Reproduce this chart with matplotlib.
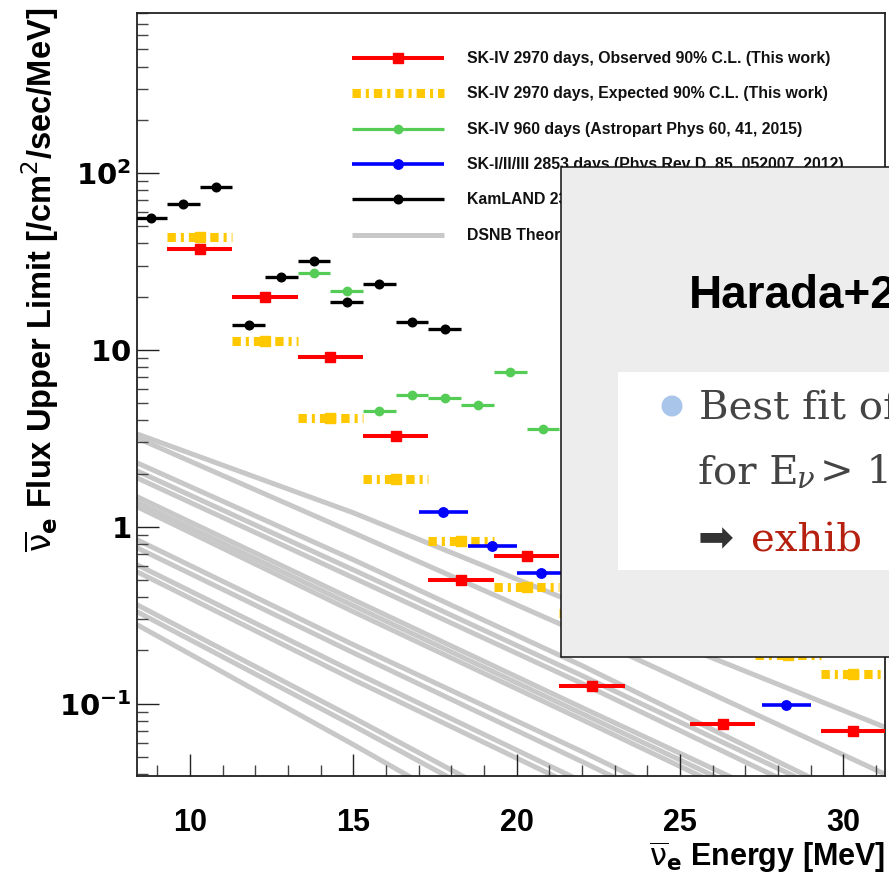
import matplotlib
matplotlib.use("Agg")
import matplotlib.pyplot as plt
from matplotlib.lines import Line2D
from matplotlib.patches import Rectangle, Ellipse
from matplotlib.ticker import FixedLocator, FixedFormatter, MultipleLocator, NullFormatter
import numpy as np

plt.rcParams["lines.scale_dashes"] = False

NARROW = ["Liberation Sans Narrow", "Liberation Sans", "DejaVu Sans"]

# SK-IV 2970 days, observed 90% C.L. upper limits
obs_lo = [9.3, 11.3, 13.3, 15.3, 17.3, 19.3, 21.3, 25.3, 29.3]
obs_hi = [11.3, 13.3, 15.3, 17.3, 19.3, 21.3, 23.3, 27.3, 31.3]
obs_val = [37.1, 20.0, 9.17, 3.24, 0.50, 0.68, 0.126, 0.077, 0.070]

# SK-IV 2970 days, expected 90% C.L. sensitivity
exp_lo = [9.3, 11.3, 13.3, 15.3, 17.3, 19.3, 21.3, 27.3, 29.3]
exp_hi = [11.3, 13.3, 15.3, 17.3, 19.3, 21.3, 23.3, 29.3, 31.3]
exp_val = [43.7, 11.3, 4.11, 1.87, 0.834, 0.454, 0.325, 0.189, 0.147]

# SK-IV 960 days
sk4_lo = [13.3, 14.3, 15.3, 16.3, 17.3, 18.3, 19.3, 20.3]
sk4_hi = [14.3, 15.3, 16.3, 17.3, 18.3, 19.3, 20.3, 21.3]
sk4_val = [27.3, 21.5, 4.54, 5.55, 5.38, 4.87, 7.51, 3.56]

# SK-I/II/III 2853 days
sk123_lo = [17.0, 18.5, 20.0, 27.5]
sk123_hi = [18.5, 20.0, 21.5, 29.0]
sk123_val = [1.21, 0.778, 0.545, 0.0987]

# KamLAND
kl_lo = [8.3, 9.3, 10.3, 11.3, 12.3, 13.3, 14.3, 15.3, 16.3, 17.3]
kl_hi = [9.3, 10.3, 11.3, 12.3, 13.3, 14.3, 15.3, 16.3, 17.3, 18.3]
kl_val = [55.7, 66.8, 83.4, 13.9, 25.7, 31.9, 18.7, 23.7, 14.3, 13.1]

# DSNB model predictions, sampled at these energies
model_E = [8.38, 15.0, 22.0, 31.3]
model_flux = [
    [3.35, 1.20, 0.358, 0.0732],
    [3.18, 0.925, 0.2486, 0.0397],
    [2.30, 0.651, 0.164, 0.0236],
    [2.07, 0.571, 0.144, 0.0221],
    [1.89, 0.515, 0.130, 0.0194],
    [1.48, 0.387, 0.0950, 0.0150],
    [1.38, 0.358, 0.0878, 0.0135],
    [1.30, 0.331, 0.0812, 0.0123],
    [0.845, 0.2155, 0.0536, 0.0078],
    [0.761, 0.194, 0.0470, 0.00686],
    [0.610, 0.1517, 0.0363, 0.00464],
    [0.557, 0.1367, 0.0327, 0.0041],
    [0.3625, 0.0833, 0.0170, 0.00213],
    [0.331, 0.0751, 0.0150, 0.00187],
    [0.2795, 0.0587, 0.0108, 0.00144],
]

xtick_major = [10, 15, 20, 25, 30]
xtick_labels = ["10", "15", "20", "25", "30"]
ytick_major = [0.1, 1, 10, 100]
ytick_labels = [r"$\mathbf{10^{-1}}$", r"$\mathbf{1}$", r"$\mathbf{10}$", r"$\mathbf{10^{2}}$"]

legend_labels = [
    "SK-IV 2970 days, Observed 90% C.L. (This work)",
    "SK-IV 2970 days, Expected 90% C.L. (This work)",
    "SK-IV 960 days (Astropart Phys 60, 41, 2015)",
    "SK-I/II/III 2853 days (Phys Rev D  85, 052007, 2012)",
    "KamLAND 2343 days (ApJ 745, 193, 2012)",
    "DSNB Theoretical Predictions",
]

RED = "#ff0000"
YEL = "#ffc800"
GRN = "#55cc55"
BLU = "#0000ff"
BLK = "#000000"
GRY = "#c8c8c8"
DASHDOT = (0, (6.0, 3.6, 2.2, 3.6))

W, H = 889, 876
fig = plt.figure(figsize=(W / 100, H / 100), dpi=100)
fig.patch.set_facecolor("white")


def fx(px):
    return px / W


def fy(py):
    return 1 - py / H


ax = fig.add_axes([fx(137), fy(776), fx(885) - fx(137), fy(13.3) - fy(776)])
ax.set_xlim(8.38, 31.27)
ax.set_yscale("log")
ax.set_ylim(0.039, 800)

# model bands
for flux in model_flux:
    ax.plot(model_E, flux, color=GRY, lw=3.6, solid_capstyle="butt", zorder=1)


def binned(lo, hi, val, color, lw, marker, ms, ls="solid", z=3):
    lo = np.asarray(lo)
    hi = np.asarray(hi)
    mid = (lo + hi) / 2
    ax.hlines(val, lo, hi, colors=color, linewidths=lw, linestyles=[ls], zorder=z)
    ax.plot(mid, val, ls="none", marker=marker, ms=ms, color=color, mec=color, zorder=z + 0.1)


binned(exp_lo, exp_hi, exp_val, YEL, 6.5, "s", 6.5, ls=DASHDOT, z=3)
binned(kl_lo, kl_hi, kl_val, BLK, 2.4, "o", 6.2, z=4)
binned(sk4_lo, sk4_hi, sk4_val, GRN, 2.3, "o", 6.0, z=4)
binned(sk123_lo, sk123_hi, sk123_val, BLU, 2.6, "o", 6.8, z=4)
binned(obs_lo, obs_hi, obs_val, RED, 2.9, "s", 6.8, z=5)

# axes styling
for s in ax.spines.values():
    s.set_color("#222222")
    s.set_linewidth(1.3)
ax.xaxis.set_major_locator(FixedLocator(xtick_major))
ax.xaxis.set_major_formatter(FixedFormatter(xtick_labels))
ax.xaxis.set_minor_locator(MultipleLocator(1))
ax.yaxis.set_major_locator(FixedLocator(ytick_major))
ax.yaxis.set_major_formatter(FixedFormatter(ytick_labels))
ax.yaxis.set_minor_locator(matplotlib.ticker.LogLocator(base=10, subs=np.arange(2, 10)))
ax.yaxis.set_minor_formatter(NullFormatter())
ax.tick_params(axis="both", which="major", direction="in", length=15.5, width=1.0, color="#222222")
ax.tick_params(axis="both", which="minor", direction="in", length=7.8, width=1.0, color="#444444")
ax.tick_params(axis="x", which="major", pad=23)
ax.tick_params(axis="y", which="major", pad=4, labelsize=21)
for t in ax.get_xticklabels():
    t.set_fontfamily(NARROW)
    t.set_fontweight("bold")
    t.set_fontsize(22)

# axis titles
fig.text(fx(40), fy(8), r"$\overline{\mathrm{\nu}}_{\mathbf{e}}$ Flux Upper Limit [/cm$^{2}$/sec/MeV]",
         rotation=90, ha="center", va="top", fontsize=23.5, fontweight="bold", family=NARROW)
fig.text(fx(885), fy(875), r"$\overline{\mathrm{\nu}}_{\mathbf{e}}$ Energy [MeV]",
         ha="right", va="bottom", fontsize=22, fontweight="bold", family=NARROW)

# legend
leg_rows = [58.3, 93.3, 129.3, 164.3, 199.3, 235.0]
leg_style = [
    dict(color=RED, lw=2.9, marker="s", ms=6.8),
    dict(color=YEL, lw=6.5, ls=DASHDOT, marker=None, ms=0),
    dict(color=GRN, lw=2.3, marker="o", ms=6.0),
    dict(color=BLU, lw=2.6, marker="o", ms=6.8),
    dict(color=BLK, lw=2.4, marker="o", ms=6.2),
    dict(color=GRY, lw=3.6, marker=None, ms=0),
]
for row, style, label in zip(leg_rows, leg_style, legend_labels):
    fig.add_artist(Line2D([fx(352), fx(444)], [fy(row), fy(row)], transform=fig.transFigure,
                          color=style["color"], lw=style["lw"], ls=style.get("ls", "solid"),
                          solid_capstyle="butt", dash_capstyle="butt", zorder=5))
    if style["marker"]:
        fig.add_artist(Line2D([fx(398)], [fy(row)], transform=fig.transFigure, ls="none",
                              marker=style["marker"], ms=style["ms"], color=style["color"], zorder=5))
    fig.text(fx(467), fy(row), label, ha="left", va="center", fontsize=11.4,
             fontweight="bold", family=NARROW, color="#111111", zorder=5)

# slide panel placed over the right-hand part
fig.add_artist(Rectangle((fx(561), fy(657)), 0.5, fy(167) - fy(657), transform=fig.transFigure,
                         facecolor="#ededed", edgecolor="#111111", lw=1.1, zorder=20))
fig.add_artist(Rectangle((fx(618), fy(570)), 0.5, fy(372) - fy(570), transform=fig.transFigure,
                         facecolor="white", edgecolor="none", zorder=21))
fig.add_artist(Ellipse((fx(672), fy(406)), 21 / W, 21 / H, transform=fig.transFigure,
                       facecolor="#a9c6ea", edgecolor="none", zorder=22))
fig.text(fx(689), fy(308), "Harada+2", ha="left", va="baseline", fontsize=33,
         fontweight="bold", family=["Liberation Sans", "DejaVu Sans"], color="black", zorder=22)
fig.text(fx(699), fy(420), "Best fit of", ha="left", va="baseline", fontsize=29,
         family="DejaVu Serif", color="#444444", zorder=22)
fig.text(fx(698), fy(483), "for E", ha="left", va="baseline", fontsize=29,
         family="DejaVu Serif", color="#444444", zorder=22)
fig.text(fx(797), fy(488), "ν", ha="left", va="baseline", fontsize=21, style="italic",
         family="DejaVu Serif", color="#444444", zorder=22)
fig.text(fx(820), fy(483), "> 17", ha="left", va="baseline", fontsize=29,
         family="DejaVu Serif", color="#444444", zorder=22)
fig.text(fx(698), fy(539), "➡", ha="left", va="center", fontsize=31,
         family="DejaVu Sans", color="#333333", zorder=22)
fig.text(fx(751), fy(552), "exhib", ha="left", va="baseline", fontsize=29,
         family="DejaVu Serif", color="#b5200f", zorder=22)

fig.savefig("out.png", dpi=100)
